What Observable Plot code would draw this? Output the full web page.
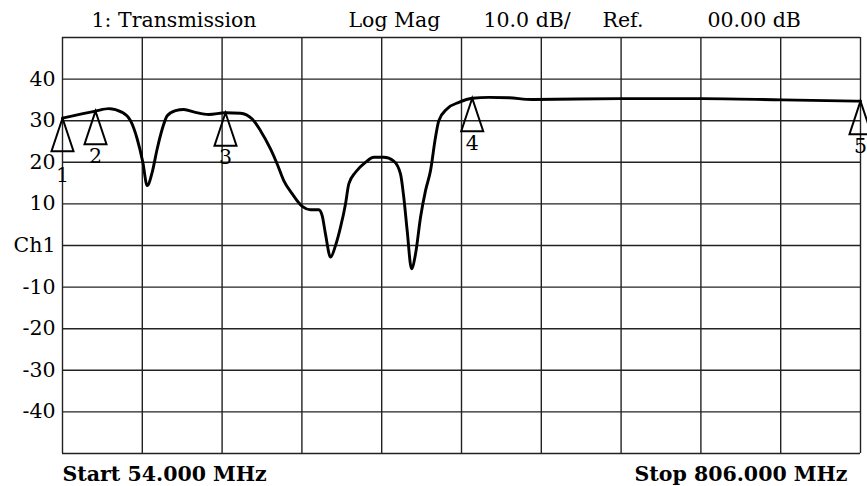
<!DOCTYPE html>
<html>
<head>
<meta charset="utf-8">
<script src="https://cdn.jsdelivr.net/npm/d3@7"></script>
<script src="https://cdn.jsdelivr.net/npm/@observablehq/plot@0.6"></script>
<style>
  html, body { margin: 0; padding: 0; background: #fff; overflow: hidden; }
  #chart { width: 867px; height: 486px; }
</style>
</head>
<body>
<div id="chart"></div>
<script>
// Trace: frequency (MHz) and magnitude (dB)
const freqMHz = [54, 85.1, 97.6, 110.3, 118.1, 124.4, 129.7, 133.8, 138.5, 143.2, 148.0, 152.7, 160.5, 168.3, 179.3, 191.9, 207.6, 221.7, 232.8, 240.6, 250.0, 256.3, 262.5, 270.5, 279.9, 287.7, 295.5, 298.7, 301.8, 306.6, 311.3, 316.0, 320.7, 323.8, 330.1, 339.5, 347.4, 356.8, 366.2, 372.5, 375.6, 378.8, 382.9, 386.7, 391.4, 396.1, 400.8, 405.5, 408.6, 416.5, 427.5, 440.1, 455.7, 474.6, 496.6, 581.4, 656.8, 732.2, 806];
const magDB   = [30.6, 32.3, 32.9, 32.0, 30.0, 25.6, 20.0, 14.4, 17.6, 23.2, 28.0, 31.2, 32.4, 32.7, 32.0, 31.5, 31.9, 31.8, 30.4, 27.6, 23.2, 19.6, 15.6, 12.4, 9.4, 8.6, 8.6, 7.2, 2.8, -2.8, 0.0, 4.4, 10.0, 14.8, 17.6, 20.0, 21.2, 21.2, 20.3, 17.2, 11.6, 3.6, -5.6, -2.0, 6.8, 13.2, 18.0, 26.0, 30.0, 32.9, 34.4, 35.4, 35.6, 35.5, 35.1, 35.3, 35.3, 35.0, 34.7];

// Markers
const markerIds  = ["1", "2", "3", "4", "5"];
const markerFreq = [54, 85.1, 207.6, 440.1, 806];
const markerDB   = [30.6, 32.3, 31.9, 35.4, 34.7];

// Axes
const startMHz = 54, stopMHz = 806;
const yTicks = [-40, -30, -20, -10, 0, 10, 20, 30, 40];
const yGrid = [-50, -40, -30, -20, -10, 0, 10, 20, 30, 40, 50];
const xDivisions = 10;

// Header / footer texts
const headerTexts = ["1: Transmission", "Log Mag", "10.0 dB/", "Ref.", "00.00 dB"];
const startLabel = "Start 54.000 MHz";
const stopLabel = "Stop 806.000 MHz";

const xGrid = d3.range(xDivisions + 1).map(i => startMHz + i * (stopMHz - startMHz) / xDivisions);
const trace = freqMHz.map((f, i) => ({f, db: magDB[i]}));
const markers = markerIds.map((id, i) => ({id, f: markerFreq[i], db: markerDB[i]}));

const markerSymbol = {
  draw(context) {
    context.moveTo(0, 0);
    context.lineTo(-11, 33);
    context.lineTo(11, 33);
    context.closePath();
  }
};

const font = "DejaVu Serif";
const fs = 20.5;
const headerDx = [29, 286, 421, 540, 645];

const chart = Plot.plot({
  width: 867,
  height: 486,
  marginLeft: 62,
  marginRight: 7,
  marginTop: 37,
  marginBottom: 33,
  x: {domain: [startMHz, stopMHz], axis: null},
  y: {domain: [-50, 50], axis: null},
  style: {fontFamily: font, background: "#fff", color: "#000", overflow: "visible"},
  marks: [
    Plot.ruleX(xGrid, {stroke: "#222", strokeWidth: 1.4, strokeOpacity: 1}),
    Plot.ruleY(yGrid, {stroke: "#222", strokeWidth: 1.4, strokeOpacity: 1}),
    Plot.axisY(yTicks, {
      ticks: yTicks, tickSize: 0, tickPadding: 7, fontSize: fs, fill: "#000",
      tickFormat: d => d === 0 ? "Ch1" : String(d), label: null
    }),
    Plot.line(trace, {x: "f", y: "db", curve: "monotone-x", stroke: "#000", strokeWidth: 2.9, strokeLinejoin: "round"}),
    Plot.dot(markers, {x: "f", y: "db", symbol: markerSymbol, r: 10, fill: "none", stroke: "#000", strokeWidth: 2}),
    Plot.text(markers, {filter: (d, i) => i > 0, x: "f", y: "db", text: "id", dy: 45, fontSize: fs, fill: "#000"}),
    Plot.text(markers, {filter: (d, i) => i === 0, x: "f", y: "db", text: "id", dy: 57, fontSize: fs, fill: "#000"}),
    ...headerTexts.map((t, i) => Plot.text([t], {
      frameAnchor: "top-left", text: d => d, textAnchor: "start", lineAnchor: "bottom",
      dx: headerDx[i], dy: -11, fontSize: fs, fill: "#000"
    })),
    Plot.text([startLabel], {
      frameAnchor: "bottom-left", text: d => d, textAnchor: "start", lineAnchor: "bottom",
      dx: 0, dy: 27, fontSize: fs, fontWeight: "bold", fill: "#000"
    }),
    Plot.text([stopLabel], {
      frameAnchor: "bottom-right", text: d => d, textAnchor: "end", lineAnchor: "bottom",
      dx: -13, dy: 27, fontSize: fs, fontWeight: "bold", fill: "#000"
    })
  ]
});
document.getElementById("chart").append(chart);
</script>
</body>
</html>
